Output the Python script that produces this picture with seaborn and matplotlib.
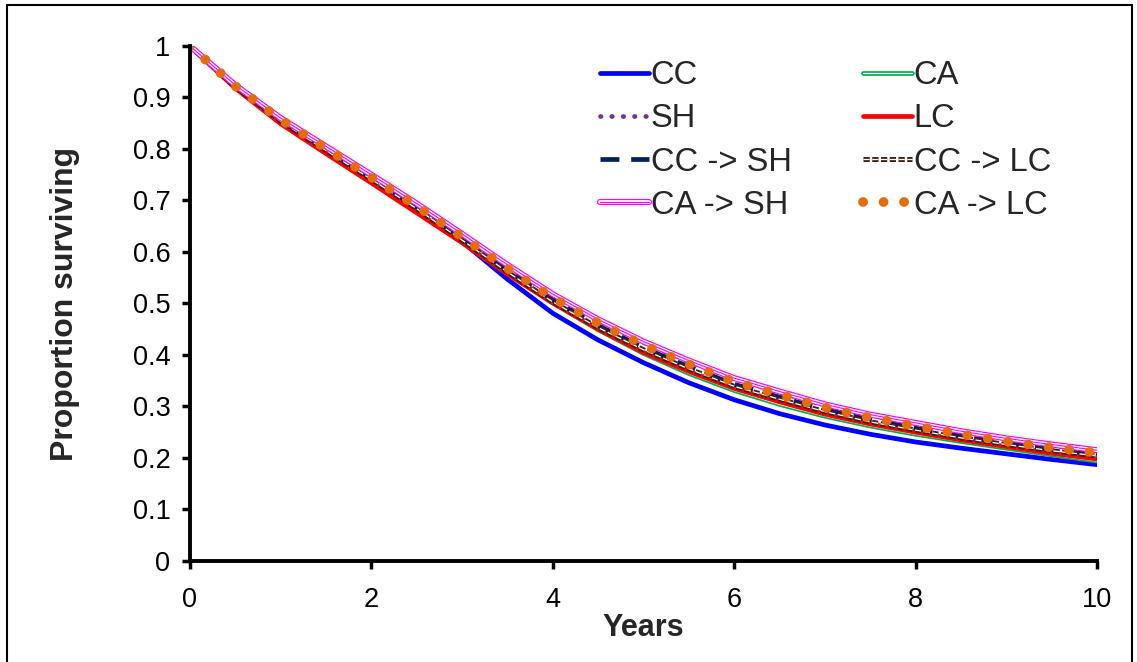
import matplotlib
matplotlib.use("Agg")
import matplotlib.pyplot as plt
import matplotlib.patheffects as pe
import pandas as pd
import seaborn as sns

years = [0, 0.5, 1, 1.5, 2, 2.5, 3, 3.5, 4, 4.5, 5, 5.5, 6, 6.5, 7, 7.5, 8, 8.5, 9, 9.5, 10]

cc = [1.0, 0.921, 0.855, 0.798, 0.742, 0.685, 0.620, 0.547, 0.481, 0.429, 0.385,
      0.346, 0.313, 0.286, 0.264, 0.246, 0.231, 0.219, 0.208, 0.197, 0.187]
ca = [1.0, 0.921, 0.855, 0.799, 0.743, 0.686, 0.624, 0.560, 0.501, 0.449, 0.403,
      0.364, 0.331, 0.304, 0.281, 0.262, 0.246, 0.232, 0.219, 0.206, 0.194]
sh = [1.0, 0.923, 0.859, 0.803, 0.748, 0.692, 0.633, 0.573, 0.516, 0.467, 0.424,
      0.387, 0.353, 0.327, 0.302, 0.282, 0.266, 0.250, 0.236, 0.224, 0.213]
lc = [1.0, 0.918, 0.849, 0.791, 0.734, 0.676, 0.618, 0.557, 0.501, 0.450, 0.405,
      0.368, 0.335, 0.309, 0.285, 0.266, 0.250, 0.235, 0.222, 0.209, 0.198]
cc_sh = [1.0, 0.921, 0.856, 0.799, 0.743, 0.687, 0.626, 0.564, 0.507, 0.457, 0.414,
         0.377, 0.343, 0.318, 0.294, 0.274, 0.258, 0.242, 0.229, 0.217, 0.207]
cc_lc = [1.0, 0.920, 0.854, 0.797, 0.741, 0.684, 0.623, 0.561, 0.503, 0.453, 0.410,
         0.373, 0.339, 0.314, 0.290, 0.270, 0.254, 0.239, 0.226, 0.214, 0.204]
ca_sh = [1.0, 0.924, 0.860, 0.805, 0.750, 0.694, 0.635, 0.575, 0.518, 0.469, 0.426,
         0.389, 0.355, 0.329, 0.304, 0.284, 0.268, 0.252, 0.238, 0.226, 0.215]
ca_lc = [1.0, 0.922, 0.857, 0.801, 0.745, 0.689, 0.629, 0.568, 0.511, 0.462, 0.419,
         0.382, 0.348, 0.323, 0.298, 0.278, 0.262, 0.246, 0.232, 0.220, 0.210]

series = {
    "CC": cc, "CA": ca, "SH": sh, "LC": lc,
    "CC -> SH": cc_sh, "CC -> LC": cc_lc, "CA -> SH": ca_sh, "CA -> LC": ca_lc,
}

rows = []
for name, vals in series.items():
    for t, v in zip(years, vals):
        rows.append({"Years": t, "Proportion surviving": v, "Treatment": name})
df = pd.DataFrame(rows)

sns.set_style("white")
plt.rcParams["font.family"] = ["Liberation Sans", "DejaVu Sans"]

fig = plt.figure(figsize=(11.37, 6.62), dpi=100)
ax = fig.add_axes([0.167, 0.1526, 0.798, 0.778])

# style per line: color, width, dashes, path effects
styles = {
    "CC": dict(color="#0000FF", lw=3.4, ls="-"),
    "CA": dict(color="white", lw=0.9, ls="-",
               path_effects=[pe.Stroke(linewidth=3.4, foreground="#00B050"), pe.Normal()]),
    "SH": dict(color="#7030A0", lw=3.4, ls=(0, (0.1, 2.3)), dash_capstyle="round"),
    "LC": dict(color="#FF0000", lw=3.4, ls="-"),
    "CC -> SH": dict(color="#002060", lw=3.4, ls=(0, (4, 2.5))),
    "CC -> LC": dict(color="white", lw=0.9, ls=(0, (5, 2)),
                     path_effects=[pe.Stroke(linewidth=3.6, foreground="#3B2314"), pe.Normal()]),
    "CA -> SH": dict(color="#FF00FF", lw=0.8, ls="-",
                     path_effects=[pe.Stroke(linewidth=4.4, foreground="#FF00FF"),
                                   pe.Stroke(linewidth=2.7, foreground="white"), pe.Normal()]),
    "CA -> LC": dict(color="#E46C0A", lw=7, ls=(0, (0.01, 2.1)), dash_capstyle="round"),
}

for name in series:
    sub = df[df["Treatment"] == name]
    st = dict(styles[name])
    ls = st.pop("ls")
    sns.lineplot(data=sub, x="Years", y="Proportion surviving", ax=ax, label=name,
                 linestyle=ls, **st)

ax.set_xlim(0, 10)
ax.set_ylim(0, 1)
ax.set_xticks([0, 2, 4, 6, 8, 10])
ax.set_yticks([i / 10 for i in range(11)])
ax.set_yticklabels(["0", "0.1", "0.2", "0.3", "0.4", "0.5", "0.6", "0.7", "0.8", "0.9", "1"])
ax.tick_params(axis="both", direction="out", length=6, width=2.5, labelsize=19.5,
               color="black", labelcolor="black", pad=6)
ax.tick_params(axis="x", bottom=True, pad=13)
ax.tick_params(axis="y", left=True, pad=8)
for s in ["top", "right"]:
    ax.spines[s].set_visible(False)
for s in ["left", "bottom"]:
    ax.spines[s].set_color("black")
    ax.spines[s].set_linewidth(2.8)
ax.set_xlabel("Years", fontsize=22, fontweight="bold", labelpad=0)
ax.set_ylabel("Proportion surviving", fontsize=23, fontweight="bold", labelpad=38)
ax.grid(False)

# legend filled row by row like the original
handles, labels = ax.get_legend_handles_labels()
order = [0, 2, 4, 6, 1, 3, 5, 7]
leg = ax.legend([handles[i] for i in order], [labels[i] for i in order],
                ncol=2, frameon=False, fontsize=23.5, loc="upper left",
                bbox_to_anchor=(0.452, 0.972), handlelength=1.5, handletextpad=0.05,
                columnspacing=2.2, labelspacing=0.37, borderpad=0, borderaxespad=0)

# outer frame of the figure
fig.add_artist(plt.Line2D([0.006, 0.006], [0.0, 0.992], color="black", lw=1.5,
                          transform=fig.transFigure))
fig.add_artist(plt.Line2D([0.006, 0.996], [0.992, 0.992], color="black", lw=1.5,
                          transform=fig.transFigure))
fig.add_artist(plt.Line2D([0.996, 0.996], [0.0, 0.992], color="black", lw=1.5,
                          transform=fig.transFigure))

fig.savefig("out.png", dpi=100)
